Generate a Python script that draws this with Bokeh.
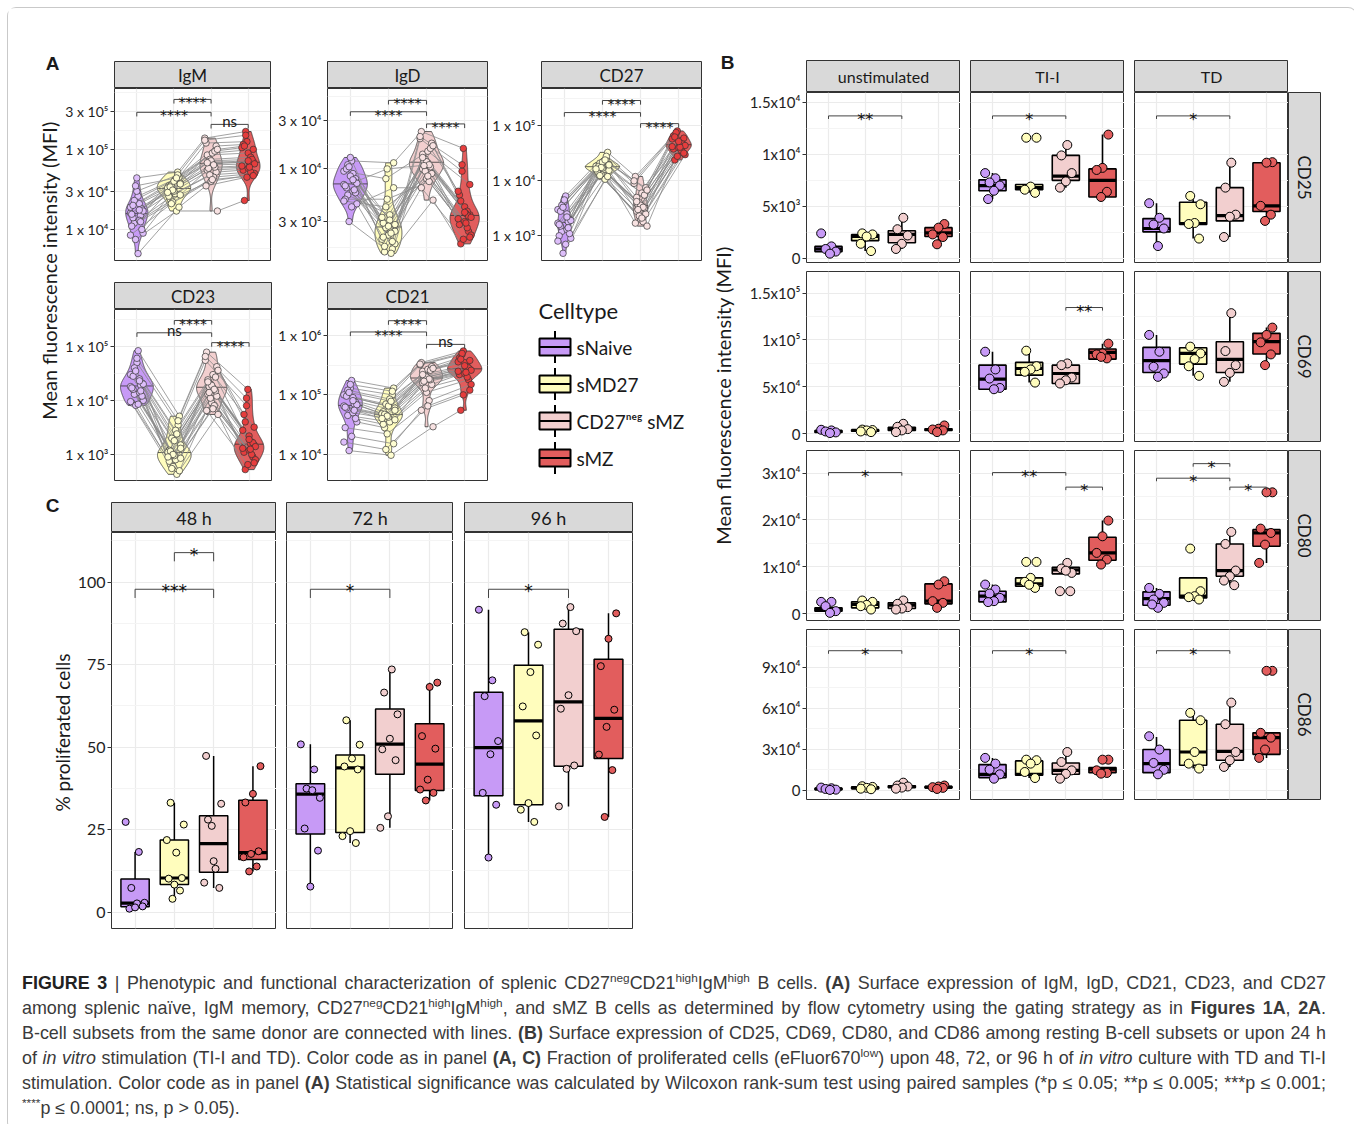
import numpy as np
from bokeh.plotting import figure
from bokeh.models import Range1d, FixedTicker, Grid, LinearAxis, LogAxis, Div, Spacer
from bokeh.layouts import row, column
from bokeh.core.properties import value
from bokeh.embed import file_html
from bokeh.resources import INLINE

# ============================ DATA ============================
celltypes = ["sNaive", "sMD27", "CD27neg", "sMZ"]
legend_labels = ["sNaive", "sMD27", "CD27\u207f\u1d49\u1d4d sMZ", "sMZ"]

# ---- Panel A: MFI per donor (same donor order in every list) ----
igm_snaive = [16000, 21000, 12000, 9000, 26000, 14000, 18000, 44000, 11000, 15000, 7500, 19000,
              13000, 23000, 17000, 5000, 20000, 10000, 30000, 15500, 12500, 35000, 8500, 17500]
igm_smd27 = [32000, 38000, 28000, 24000, 45000, 30000, 35000, 52000, 22000, 33000, 17000, 36000,
             27000, 42000, 34000, 19000, 40000, 26000, 48000, 31000, 29000, 44000, 21000, 37000]
igm_cd27neg = [66000, 85000, 52000, 40000, 120000, 60000, 75000, 138000, 45000, 70000, 17000, 90000,
               55000, 110000, 72000, 35000, 95000, 48000, 130000, 64000, 58000, 100000, 42000, 68000]
igm_smz = [70000, 90000, 55000, 48000, 125000, 62000, 80000, 167000, 50000, 68000, 23000, 100000,
           58000, 115000, 75000, 45000, 105000, 52000, 150000, 66000, 60000, 110000, 47000, 72000]

igd_snaive = [7000, 9000, 5500, 4500, 12000, 6500, 8000, 13000, 5000, 7500, 3000, 9500,
              6000, 11000, 7200, 4200, 10000, 5800, 8500, 6800, 6200, 10500, 4800, 7800]
igd_smd27 = [2600, 1800, 3500, 1500, 11500, 2200, 2900, 1600, 5000, 2000, 1450, 8000,
             2400, 3100, 1700, 6500, 2700, 2100, 1900, 10000, 3300, 2300, 4200, 2800]
igd_cd27neg = [11500, 14000, 9000, 8000, 23500, 10500, 12500, 20000, 7500, 12000, 4900, 15000,
               10000, 18000, 11800, 6500, 16000, 9500, 21000, 11000, 10800, 17000, 8500, 13000]
igd_smz = [3500, 4200, 2800, 2400, 16000, 3200, 3800, 9500, 2200, 3600, 1800, 7000,
           3000, 5500, 3400, 2000, 6000, 2600, 11000, 3300, 2900, 4800, 2100, 3700]

cd27_snaive = [1700, 2500, 1200, 900, 5300, 1500, 2000, 4200, 1000, 1800, 480, 3000,
               1300, 3600, 1900, 700, 2800, 1100, 4500, 1600, 1400, 3300, 800, 2200]
cd27_smd27 = [18000, 20000, 16000, 14000, 33000, 17000, 19000, 25000, 13000, 18500, 10700, 21000,
              15500, 23000, 18200, 12000, 22000, 15000, 28000, 17500, 16500, 24000, 12500, 19500]
cd27_cd27neg = [3500, 5000, 2500, 2000, 12000, 3200, 4000, 9000, 1800, 3700, 1500, 6000,
                2800, 7500, 3600, 1700, 5500, 2300, 10000, 3300, 3000, 6800, 2100, 4200]
cd27_smz = [45000, 55000, 38000, 33000, 81000, 42000, 50000, 72000, 30000, 46000, 24000, 60000,
            40000, 66000, 47000, 28000, 58000, 36000, 76000, 44000, 41000, 63000, 32000, 52000]

cd23_snaive = [18000, 25000, 13000, 10000, 83000, 16000, 21000, 50000, 9000, 19000, 8100, 30000,
               14000, 40000, 20000, 8500, 28000, 12000, 60000, 17000, 15000, 35000, 9500, 23000]
cd23_smd27 = [1070, 1500, 800, 650, 5100, 950, 1200, 3500, 600, 1100, 430, 2000,
              850, 2800, 1150, 500, 1800, 750, 4200, 1000, 900, 2400, 550, 1300]
cd23_cd27neg = [17000, 24000, 12000, 9000, 78000, 15000, 20000, 55000, 8000, 18000, 5500, 30000,
                13000, 42000, 19000, 6500, 27000, 11000, 65000, 16000, 14000, 36000, 7000, 22000]
cd23_smz = [1500, 2200, 1100, 900, 16000, 1300, 1700, 8000, 800, 1600, 525, 3200,
            1200, 5500, 1650, 650, 2800, 1000, 11000, 1400, 1250, 4000, 700, 1900]

cd21_snaive = [65000, 90000, 45000, 35000, 175000, 60000, 75000, 130000, 28000, 70000, 11500, 100000,
               50000, 120000, 68000, 20000, 95000, 40000, 150000, 62000, 55000, 110000, 16000, 80000]
cd21_smd27 = [46000, 60000, 35000, 28000, 130000, 42000, 52000, 100000, 22000, 48000, 9600, 70000,
              38000, 85000, 47000, 15000, 65000, 32000, 115000, 44000, 40000, 78000, 12000, 55000]
cd21_cd27neg = [190000, 250000, 150000, 110000, 350000, 180000, 210000, 320000, 80000, 195000, 29000, 270000,
                160000, 300000, 200000, 55000, 260000, 130000, 330000, 185000, 170000, 280000, 65000, 220000]
cd21_smz = [270000, 350000, 220000, 180000, 550000, 250000, 300000, 480000, 150000, 280000, 55000, 380000,
            230000, 420000, 285000, 100000, 360000, 200000, 500000, 260000, 240000, 400000, 120000, 310000]

a_data = {
    "IgM": [igm_snaive, igm_smd27, igm_cd27neg, igm_smz],
    "IgD": [igd_snaive, igd_smd27, igd_cd27neg, igd_smz],
    "CD27": [cd27_snaive, cd27_smd27, cd27_cd27neg, cd27_smz],
    "CD23": [cd23_snaive, cd23_smd27, cd23_cd27neg, cd23_smz],
    "CD21": [cd21_snaive, cd21_smd27, cd21_cd27neg, cd21_smz],
}
a_ticks = {"IgM": [1e4, 3e4, 1e5, 3e5], "IgD": [3e3, 1e4, 3e4], "CD27": [1e3, 1e4, 1e5],
           "CD23": [1e3, 1e4, 1e5], "CD21": [1e4, 1e5, 1e6]}
a_tick_labels = {"IgM": ["1 x 10\u2074", "3 x 10\u2074", "1 x 10\u2075", "3 x 10\u2075"],
                 "IgD": ["3 x 10\u00b3", "1 x 10\u2074", "3 x 10\u2074"],
                 "CD27": ["1 x 10\u00b3", "1 x 10\u2074", "1 x 10\u2075"],
                 "CD23": ["1 x 10\u00b3", "1 x 10\u2074", "1 x 10\u2075"],
                 "CD21": ["1 x 10\u2074", "1 x 10\u2075", "1 x 10\u2076"]}
a_ylim = {"IgM": (4100, 575000), "IgD": (1230, 63000), "CD27": (355, 480000),
          "CD23": (330, 480000), "CD21": (3600, 2750000)}
# (group a, group b, bracket height, label)
a_signif = {"IgM": [(1, 3, 2.9e5, "****"), (2, 3, 4.2e5, "****"), (3, 4, 2.05e5, "ns")],
            "IgD": [(1, 3, 3.7e4, "****"), (2, 3, 4.8e4, "****"), (3, 4, 2.8e4, "****")],
            "CD27": [(1, 3, 1.75e5, "****"), (2, 3, 2.9e5, "****"), (3, 4, 1.1e5, "****")],
            "CD23": [(1, 3, 1.78e5, "ns"), (2, 3, 3.0e5, "****"), (3, 4, 1.17e5, "****")],
            "CD21": [(1, 3, 1.15e6, "****"), (2, 3, 1.78e6, "****"), (3, 4, 7.1e5, "ns")]}

# ---- Panel B: points and box statistics [low whisker, q1, median, q3, high whisker] ----
b_conditions = ["unstimulated", "TI-I", "TD"]
b_markers = ["CD25", "CD69", "CD80", "CD86"]

cd25_unstim_pts = [[2400, 1150, 900, 650, 450], [2400, 2300, 2100, 1400, 700],
                   [3900, 2800, 2200, 1400, 900], [3300, 2950, 2300, 2050, 1350]]
cd25_unstim_box = [[450, 650, 900, 1150, 1150], [700, 1700, 2100, 2300, 2400],
                   [900, 1500, 2300, 2650, 3900], [1350, 2100, 2450, 2950, 3300]]
cd25_tii_pts = [[8200, 7700, 7300, 7000, 6500, 5700], [11600, 11600, 6900, 6600, 6300],
                [10900, 9900, 8200, 7400, 6800], [11900, 8700, 8500, 6400, 5900]]
cd25_tii_box = [[5700, 6500, 7000, 7550, 8200], [6300, 6600, 6800, 7100, 7100],
                [6800, 7500, 7900, 9900, 10900], [5900, 5900, 7500, 8600, 11900]]
cd25_td_pts = [[5300, 3900, 3250, 2870, 1180], [6000, 5200, 3400, 3300, 1900],
               [9200, 6800, 4200, 4000, 2050], [9250, 9200, 5050, 4200, 3600]]
cd25_td_box = [[1180, 2550, 2870, 3820, 5300], [1900, 3250, 3350, 5400, 6000],
               [2050, 3600, 4100, 6800, 9200], [3600, 4500, 5050, 9200, 9250]]

cd69_unstim_pts = [[4300, 3600, 2500, 1500, 800], [4500, 4000, 3600, 2500, 1800],
                   [10700, 7500, 5000, 3600, 1800], [8900, 5400, 4600, 3600, 1800]]
cd69_unstim_box = [[800, 1500, 2500, 3600, 4300], [1800, 2800, 3700, 4200, 4500],
                   [1800, 3600, 5000, 7000, 10700], [1800, 3600, 4600, 5400, 8900]]
cd69_tii_pts = [[87500, 68600, 58900, 48900, 47500], [88600, 72100, 68600, 66100, 54600],
                [75000, 73200, 60000, 57100, 53600], [96100, 85700, 84600, 80400, 82000]]
cd69_tii_box = [[47500, 47500, 58200, 73200, 87500], [54600, 62500, 69600, 76100, 88600],
                [53600, 53600, 64300, 73200, 75000], [79600, 79600, 86800, 90400, 96100]]
cd69_td_pts = [[105400, 87500, 71400, 64300, 60700], [92900, 85700, 79600, 72000, 61800],
               [128600, 88200, 73200, 65000, 55400], [113200, 105400, 97500, 84600, 73200]]
cd69_td_box = [[60700, 65400, 77900, 92100, 105400], [61800, 74300, 85700, 91800, 92900],
               [55400, 65400, 79300, 98200, 128600], [73200, 85000, 98200, 107100, 113200]]

cd80_unstim_pts = [[2550, 2550, 1630, 570, 210], [2840, 2550, 1900, 1630, 920],
                   [2840, 2130, 1420, 1130, 920], [6950, 6240, 2700, 2340, 1280]]
cd80_unstim_box = [[210, 570, 920, 1280, 1280], [920, 1280, 1990, 2550, 2840],
                   [920, 1130, 1840, 2340, 2840], [1280, 2130, 2700, 6380, 6950]]
cd80_tii_pts = [[6240, 5180, 4330, 3400, 2700, 2500], [11060, 11060, 7660, 6810, 5530, 6200],
                [10850, 9650, 8720, 9200, 4820, 4820], [19860, 16520, 12980, 11560, 10500]]
cd80_tii_box = [[2500, 2550, 3760, 4820, 6240], [5530, 5890, 6380, 7660, 7660],
                [8510, 8510, 9360, 9930, 10850], [10500, 11420, 12980, 16310, 19860]]
cd80_td_pts = [[5530, 4260, 3050, 2340, 1280, 2000], [13900, 4820, 3760, 3550, 3050],
               [17450, 14890, 9220, 8010, 7090, 6100], [25890, 25890, 18160, 17230, 14750, 10850]]
cd80_td_box = [[1280, 1840, 3260, 4680, 5530], [3050, 3400, 3760, 7660, 7660],
               [6100, 8010, 9220, 14890, 17450], [10850, 14400, 17230, 17940, 17940]]

cd86_unstim_pts = [[2000, 1500, 1000, 500, 300], [3000, 2500, 1800, 1200, 800],
                   [5600, 3500, 2800, 2000, 1200], [3500, 2800, 2300, 1800, 1000]]
cd86_unstim_box = [[300, 500, 1000, 1500, 2000], [800, 1200, 1800, 2500, 3000],
                   [1200, 2000, 2800, 3300, 5600], [1000, 1800, 2300, 2800, 3500]]
cd86_tii_pts = [[23700, 19500, 15100, 11700, 8500], [22400, 22000, 19500, 13400, 9000],
                [28000, 20700, 14600, 12000, 8500], [22400, 22400, 14600, 12700, 12200]]
cd86_tii_box = [[8500, 9300, 11700, 18800, 23700], [9000, 11000, 11700, 21500, 22400],
                [8500, 11700, 14600, 20000, 26800], [12200, 12900, 15400, 16600, 16600]]
cd86_td_pts = [[39500, 29800, 20000, 15000, 11700], [56600, 51200, 28000, 19500, 15900],
               [64100, 48300, 28000, 22000, 17100], [87300, 87300, 42000, 38500, 29800, 23700]]
cd86_td_box = [[11700, 12900, 19500, 29800, 39000], [15900, 18300, 28000, 51200, 56600],
               [17100, 22000, 28500, 48300, 64100], [23700, 26300, 38500, 42000, 42000]]

b_pts = {"CD25": [cd25_unstim_pts, cd25_tii_pts, cd25_td_pts],
         "CD69": [cd69_unstim_pts, cd69_tii_pts, cd69_td_pts],
         "CD80": [cd80_unstim_pts, cd80_tii_pts, cd80_td_pts],
         "CD86": [cd86_unstim_pts, cd86_tii_pts, cd86_td_pts]}
b_box = {"CD25": [cd25_unstim_box, cd25_tii_box, cd25_td_box],
         "CD69": [cd69_unstim_box, cd69_tii_box, cd69_td_box],
         "CD80": [cd80_unstim_box, cd80_tii_box, cd80_td_box],
         "CD86": [cd86_unstim_box, cd86_tii_box, cd86_td_box]}
b_ylim = {"CD25": (-400, 15950), "CD69": (-8200, 173000), "CD80": (-1420, 34800), "CD86": (-6700, 117500)}
b_ticks = {"CD25": [0, 5000, 10000, 15000], "CD69": [0, 50000, 100000, 150000],
           "CD80": [0, 10000, 20000, 30000], "CD86": [0, 30000, 60000, 90000]}
b_tick_labels = {"CD25": ["0", "5x10\u00b3", "1x10\u2074", "1.5x10\u2074"],
                 "CD69": ["0", "5x10\u2074", "1x10\u2075", "1.5x10\u2075"],
                 "CD80": ["0", "1x10\u2074", "2x10\u2074", "3x10\u2074"],
                 "CD86": ["0", "3x10\u2074", "6x10\u2074", "9x10\u2074"]}
b_signif = [("CD25", 0, 1, 3, 13700, "**"), ("CD25", 1, 1, 3, 13700, "*"), ("CD25", 2, 1, 3, 13700, "*"),
            ("CD69", 1, 3, 4, 134600, "**"),
            ("CD80", 0, 1, 3, 30100, "*"), ("CD80", 1, 1, 3, 30100, "**"), ("CD80", 1, 3, 4, 27000, "*"),
            ("CD80", 2, 2, 3, 32000, "*"), ("CD80", 2, 1, 3, 28900, "*"), ("CD80", 2, 3, 4, 27000, "*"),
            ("CD86", 0, 1, 3, 102000, "*"), ("CD86", 1, 1, 3, 102000, "*"), ("CD86", 2, 1, 3, 102000, "*")]

# ---- Panel C: % proliferated cells ----
c_times = ["48 h", "72 h", "96 h"]
c_48h = [[27.3, 18.2, 7.3, 2.8, 2.6, 1.0, 1.7, 1.4],
         [33.1, 26.5, 18.0, 10.1, 10.3, 8.3, 21.8, 6.5, 4.0],
         [13.1, 28.0, 32.8, 15.4, 47.3, 7.3, 26.1, 8.9],
         [44.2, 35.8, 33.2, 18.4, 17.6, 16.6, 13.8, 12.3]]
c_72h = [[50.8, 43.2, 37.4, 34.6, 36.9, 25.3, 18.6, 7.7],
         [58.1, 50.7, 46.5, 44.1, 43.2, 24.5, 23.0, 20.9],
         [73.5, 66.5, 59.9, 52.5, 49.3, 46.0, 29.0, 25.5],
         [69.5, 68.2, 53.3, 49.5, 40.1, 37.1, 36.1, 33.8]]
c_96h = [[91.6, 70.2, 65.4, 51.8, 47.8, 36.1, 32.5, 16.5],
         [84.8, 81.0, 72.7, 62.3, 53.5, 33.0, 31.0, 27.3],
         [92.4, 87.4, 85.1, 65.7, 61.6, 44.4, 43.4, 32.0],
         [90.5, 82.8, 74.5, 61.3, 56.1, 47.7, 43.0, 28.8]]
c_data = [c_48h, c_72h, c_96h]
c_ticks = [0, 25, 50, 75, 100]
c_signif = [[(2, 3, 108.9, "*"), (1, 3, 97.8, "***")], [(1, 3, 97.8, "*")], [(1, 3, 97.8, "*")]]

# ============================ STYLE ============================
FONT = "Lato"
STAR_FONT = "DejaVu Sans"
FILL = ["#C79AF6", "#FFFDBD", "#F2CFCF", "#E25D5D"]
A_PT = ["#DDBEFA", "#FFFED2", "#F8E2E2", "#E63D3D"]
GRID_MAJ = "#EBEBEB"
GRID_MIN = "#F4F4F4"
DARK = "#333333"
TXT = "#1A1A1A"


def jit(i, g, amp):
    return amp * ((((i * 7 + g * 3) % 11) / 10.0) * 2 - 1)


def base_fig(w, h, xr, yr, l=0, r=0, t=0, b=0, log=False):
    p = figure(width=w, height=h, x_range=xr, y_range=yr,
               y_axis_type="log" if log else "linear",
               x_axis_location=None, y_axis_location=None,
               toolbar_location=None, output_backend="svg",
               min_border_left=l, min_border_right=r, min_border_top=t, min_border_bottom=b)
    for g in list(p.center):
        if isinstance(g, Grid):
            g.visible = False
    p.background_fill_color = "white"
    p.border_fill_color = "white"
    p.outline_line_color = None
    return p


def strip_fig(text, l, w, r, t, h, b=0, angle=0.0, size="17px"):
    p = base_fig(l + w + r, t + h + b, Range1d(0, 1), Range1d(0, 1), l, r, t, b)
    p.background_fill_color = "#D9D9D9"
    p.outline_line_color = DARK
    p.outline_line_width = 1
    p.text(x=[0.5], y=[0.5], text=[text], text_align="center", text_baseline="middle",
           angle=angle, text_font=value(FONT), text_font_size=size, text_color=TXT)
    return p


def minor_between(ticks, lo, hi, log=False):
    t = np.log10(ticks) if log else np.array(ticks, dtype=float)
    ext = np.concatenate([[t[0] - (t[1] - t[0])], t, [t[-1] + (t[-1] - t[-2])]])
    mids = (ext[:-1] + ext[1:]) / 2
    vals = 10 ** mids if log else mids
    return [float(v) for v in vals if lo < v < hi]


def panel_fig(l, w, r, h, b, ylim, ticks, labels, label_size, log=False):
    p = base_fig(l + w + r, h + b, Range1d(0.4, 4.6), Range1d(*ylim), l, r, 0, b, log)
    p.outline_line_color = DARK
    p.outline_line_width = 1
    p.add_layout(Grid(dimension=0, ticker=FixedTicker(ticks=[1, 2, 3, 4]),
                      grid_line_color=GRID_MAJ, grid_line_width=1.2))
    minors = minor_between(ticks, ylim[0], ylim[1], log)
    p.add_layout(Grid(dimension=1, ticker=FixedTicker(ticks=list(ticks), minor_ticks=minors),
                      grid_line_color=GRID_MAJ, grid_line_width=1.2,
                      minor_grid_line_color=GRID_MIN, minor_grid_line_width=1))
    if labels is not None:
        Ax = LogAxis if log else LinearAxis
        ax = Ax(ticker=FixedTicker(ticks=list(ticks)),
                major_label_overrides={float(t): s for t, s in zip(ticks, labels)})
        ax.axis_line_color = None
        ax.major_tick_in = 0
        ax.major_tick_out = 4
        ax.major_tick_line_color = DARK
        ax.minor_tick_line_color = None
        ax.major_label_standoff = 2
        ax.major_label_text_font = FONT
        ax.major_label_text_font_size = label_size
        ax.major_label_text_color = "#1E1E1E"
        p.add_layout(ax, "left")
    return p


def brackets(p, items, span, tipfrac, size, yoff, log=False):
    for (g1, g2, y, lab) in items:
        if log:
            ytip = y / 10 ** (tipfrac * span)
        else:
            ytip = y - tipfrac * span
        p.line(x=[g1, g1, g2, g2], y=[ytip, y, y, ytip], line_color="#444444", line_width=1)
        if lab == "ns":
            p.text(x=[(g1 + g2) / 2], y=[y], text=[lab], text_align="center", text_baseline="alphabetic",
                   y_offset=-3, text_font=value(FONT), text_font_size="15px", text_color=TXT)
        else:
            p.text(x=[(g1 + g2) / 2], y=[y], text=[lab], text_align="center", text_baseline="alphabetic",
                   y_offset=yoff, text_font=value(STAR_FONT), text_font_size=size, text_color="#111111")


def kde(lv):
    n = len(lv)
    sd = np.std(lv, ddof=1)
    q75, q25 = np.percentile(lv, [75, 25])
    bw = 0.9 * min(sd, (q75 - q25) / 1.34) * n ** -0.2
    grid = np.linspace(lv.min(), lv.max(), 256)
    dens = np.exp(-0.5 * ((grid[:, None] - lv[None, :]) / bw) ** 2).sum(1) / (n * bw * np.sqrt(2 * np.pi))
    return grid, dens


def a_panel(marker, l, r, h, b):
    lo, hi = a_ylim[marker]
    p = panel_fig(l, 160, r, h, b, (lo, hi), a_ticks[marker], a_tick_labels[marker], "14px", log=True)
    groups = [np.array(v, dtype=float) for v in a_data[marker]]
    kd = [kde(np.log10(v)) for v in groups]
    dmax = max(d.max() for _, d in kd)
    for gi, (grid, dens) in enumerate(kd):
        c = gi + 1
        hw = 0.45 * dens / dmax
        xs = np.concatenate([c + hw, (c - hw)[::-1]])
        ys = 10 ** np.concatenate([grid, grid[::-1]])
        p.patch(xs, ys, fill_color=FILL[gi], line_color=DARK, line_width=0.8)
        med = np.log10(np.median(groups[gi]))
        w = np.interp(med, grid, hw)
        p.line([c - w, c + w], [10 ** med, 10 ** med], line_color=DARK, line_width=0.8)
    nd = len(groups[0])
    px = [[gi + 1 + jit(i, gi, 0.17) for i in range(nd)] for gi in range(4)]
    p.multi_line(xs=[[px[g][i] for g in range(4)] for i in range(nd)],
                 ys=[[groups[g][i] for g in range(4)] for i in range(nd)],
                 line_color="#8A8A8A", line_width=0.8)
    for gi in range(4):
        p.scatter(px[gi], groups[gi], size=6.5, fill_color=A_PT[gi], line_color=DARK, line_width=0.7)
    span = np.log10(hi) - np.log10(lo)
    brackets(p, a_signif[marker], span, 0.024, "14px", 3, log=True)
    return p


def box_group(p, x, stats, pts, gi, width, lw, med_lw, psize, jamp):
    lo, q1, med, q3, hi = stats
    p.segment(x0=[x, x], y0=[q3, q1], x1=[x, x], y1=[hi, lo], line_color="black", line_width=lw)
    p.quad(left=[x - width / 2], right=[x + width / 2], bottom=[q1], top=[q3],
           fill_color=FILL[gi], line_color="black", line_width=lw)
    p.segment(x0=[x - width / 2], y0=[med], x1=[x + width / 2], y1=[med], line_color="black", line_width=med_lw)
    xs = [x + jit(i, gi, jamp) for i in range(len(pts))]
    p.scatter(xs, pts, size=psize, fill_color=FILL[gi], line_color="black", line_width=1)


def c_panel(ti, l, w, r):
    p = panel_fig(l, w, r, 396, 7, (-5, 115), c_ticks, ([str(t) for t in c_ticks] if ti == 0 else None), "16px")
    for gi, vals in enumerate(c_data[ti]):
        v = np.array(vals, dtype=float)
        q1, med, q3 = np.percentile(v, [25, 50, 75])
        iqr = q3 - q1
        lo = v[v >= q1 - 1.5 * iqr].min()
        hi = v[v <= q3 + 1.5 * iqr].max()
        box_group(p, gi + 1, [lo, q1, med, q3, hi], vals, gi, 0.72, 1.5, 3.2, 7, 0.24)
    brackets(p, c_signif[ti], 120, 0.022, "17px", 2)
    return p


def b_panel(marker, ci, l):
    ylim = b_ylim[marker]
    p = panel_fig(l, 154, 0, 170, 9, ylim, b_ticks[marker],
                  (b_tick_labels[marker] if ci == 0 else None), "15px")
    for gi in range(4):
        box_group(p, gi + 1, b_box[marker][ci][gi], b_pts[marker][ci][gi], gi, 0.74, 1.6, 3.2, 9, 0.2)
    items = [(g1, g2, y, lab) for (m, c, g1, g2, y, lab) in b_signif if m == marker and c == ci]
    brackets(p, items, ylim[1] - ylim[0], 0.018, "16px", 3.5)
    return p


def label_fig(w, h, items):
    p = base_fig(w, h, Range1d(0, w), Range1d(0, h))
    for (x, y, txt, size, bold, ang) in items:
        p.text(x=[x], y=[y], text=[txt], text_align="center", text_baseline="middle", angle=ang,
               text_font=value("Liberation Sans" if bold else FONT),
               text_font_style=("bold" if bold else "normal"), text_font_size=size, text_color=TXT)
    return p


def legend_fig():
    p = base_fig(216, 220, Range1d(0, 216), Range1d(-0.5, 4.5), 0, 0, 26, 9)
    p.text(x=[49], y=[4], text=["Celltype"], text_align="left", text_baseline="middle",
           text_font=value(FONT), text_font_size="22px", text_color=TXT)
    for gi, lab in enumerate(legend_labels):
        yc = 3 - gi
        p.segment(x0=[65.5], y0=[yc - 0.43], x1=[65.5], y1=[yc + 0.43], line_color="black", line_width=2)
        p.quad(left=[50], right=[81], bottom=[yc - 0.23], top=[yc + 0.23],
               fill_color=FILL[gi], line_color="black", line_width=2)
        p.segment(x0=[50], y0=[yc], x1=[81], y1=[yc], line_color="black", line_width=2)
        p.text(x=[87], y=[yc], text=[lab], text_align="left", text_baseline="middle",
               text_font=value(FONT), text_font_size="19px", text_color=TXT)
    return p


# ============================ PANEL A ============================
alab = label_fig(54, 477, [(44, 422, "A", "19px", True, 0.0),
                           (40, 215, "Mean fluorescence intensity (MFI)", "20px", False, np.pi / 2)])
a1_specs = [("IgM", 48, 2), ("IgD", 55, 2), ("CD27", 52, 4)]
a1_cols = [column(strip_fig(m, l, 160, r, 53, 27), a_panel(m, l, r, 172, 5)) for (m, l, r) in a1_specs]
a2_specs = [("CD23", 49, 3), ("CD21", 53, 2)]
a2_cols = [column(strip_fig(m, l, 160, r, 17, 27), a_panel(m, l, r, 171, 5)) for (m, l, r) in a2_specs]
a_area = row(alab, column(row(*a1_cols), row(*a2_cols, legend_fig())))

# ============================ PANEL C ============================
clab = label_fig(66, 450, [(44, 430, "C", "19px", True, 0.0),
                           (54, 203, "% proliferated cells", "19px", False, np.pi / 2)])
c_specs = [(34, 168, 0), (10, 167, 0), (11, 168, 73)]
c_cols = [column(strip_fig(c_times[i], l, w, r, 17, 30, size="18px"), c_panel(i, l, w, r))
          for i, (l, w, r) in enumerate(c_specs)]
c_area = row(clab, *c_cols)
left_block = column(a_area, c_area)

# ============================ PANEL B ============================
blab = label_fig(35, 927, [(22, 873, "B", "19px", True, 0.0),
                           (17, 540, "Mean fluorescence intensity (MFI)", "20px", False, np.pi / 2)])
b_lefts = [66, 10, 10]
b_header = row(*[strip_fig(b_conditions[i], b_lefts[i], 154, 0, 52, 32, size="16px") for i in range(3)],
               Spacer(width=58, height=84))
b_rows = []
for m in b_markers:
    panels = [b_panel(m, ci, b_lefts[ci]) for ci in range(3)]
    rs = strip_fig(m, 0, 32, 26, 0, 170, b=9, angle=-np.pi / 2, size="17px")
    b_rows.append(row(*panels, rs))
b_area = row(blab, column(b_header, *b_rows, Spacer(width=10, height=127)))

top = row(left_block, b_area)

# ============================ CAPTION ============================
SUP = '<sup style="font-size:0.66em;line-height:0;vertical-align:super;">'
cap_lines = [
    '<b style="color:#222">FIGURE 3</b> | Phenotypic and functional characterization of splenic CD27' + SUP + 'neg</sup>CD21'
    + SUP + 'high</sup>IgM' + SUP + 'high</sup> B cells. <b>(A)</b> Surface expression of IgM, IgD, CD21, CD23, and CD27',
    'among splenic na\u00efve, IgM memory, CD27' + SUP + 'neg</sup>CD21' + SUP + 'high</sup>IgM' + SUP
    + 'high</sup>, and sMZ B cells as determined by flow cytometry using the gating strategy as in <b>Figures 1A</b>, <b>2A</b>.',
    'B-cell subsets from the same donor are connected with lines. <b>(B)</b> Surface expression of CD25, CD69, CD80, '
    'and CD86 among resting B-cell subsets or upon 24 h',
    'of <i>in vitro</i> stimulation (TI-I and TD). Color code as in panel <b>(A, C)</b> Fraction of proliferated cells (eFluor670'
    + SUP + 'low</sup>) upon 48, 72, or 96 h of <i>in vitro</i> culture with TD and TI-I',
    'stimulation. Color code as in panel <b>(A)</b> Statistical significance was calculated by Wilcoxon rank-sum test '
    'using paired samples (*p \u2264 0.05; **p \u2264 0.005; ***p \u2264 0.001;',
    SUP + '****</sup>p \u2264 0.0001; ns, p &gt; 0.05).',
]
line_divs = []
for k, ln in enumerate(cap_lines):
    just = "text-align:justify;text-align-last:justify;" if k < len(cap_lines) - 1 else "text-align:left;"
    line_divs.append('<div style="width:1304px;height:25px;white-space:normal;' + just + '">' + ln + '</div>')
cap_html = ('<div style="padding:30.5px 0 0 9px;font-family:\'Liberation Sans\',Arial,sans-serif;'
            'font-size:17.9px;line-height:25px;color:#3A3A3A;">'
            + "".join(line_divs) + "</div>")
caption = Div(text=cap_html, width=1338, height=185)

content = column(top, caption, styles={"box-shadow": "0 0 0 1px #C9C9C9", "border-radius": "8px"})
root = column(Spacer(width=1346, height=8), row(Spacer(width=8, height=1112), content))

open("out.html", "w").write(file_html(root, INLINE, title="Figure 3"))
